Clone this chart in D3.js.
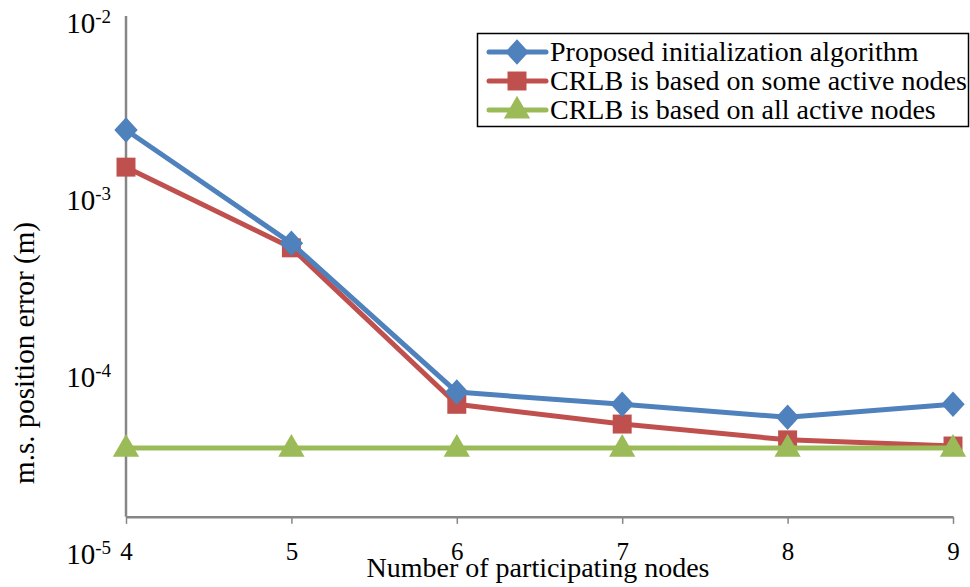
<!DOCTYPE html>
<html><head><meta charset="utf-8">
<script src="https://cdn.jsdelivr.net/npm/d3@7"></script>
<style>body{margin:0;background:#fff}svg{display:block}</style>
</head><body>
<svg id="c" width="970" height="587"></svg>
<script>
const nodes = [4, 5, 6, 7, 8, 9];
const proposed = [2.27e-3, 5.2e-4, 7.5e-5, 6.4e-5, 5.4e-5, 6.4e-5];
const crlbSome = [1.40e-3, 4.9e-4, 6.4e-5, 4.95e-5, 4.03e-5, 3.72e-5];
const crlbAll  = [3.62e-5, 3.62e-5, 3.62e-5, 3.62e-5, 3.62e-5, 3.62e-5];
const yTickExps = [-2, -3, -4, -5];
const seriesNames = ["Proposed initialization algorithm", "CRLB is based on some active nodes", "CRLB is based on all active nodes"];
const xAxisCross = 1.48e-5;

const svg = d3.select("#c");
const font = "Liberation Serif";
const x = d3.scaleLinear().domain([4, 9]).range([126, 953]);
const y = d3.scaleLog().domain([1e-5, 1e-2]).range([547, 16]);
const axisY = y(xAxisCross);
const gray = "#868686";

// axes
svg.append("line").attr("x1", x(4)).attr("x2", x(4)).attr("y1", y(1e-2)).attr("y2", axisY)
  .attr("stroke", gray).attr("stroke-width", 2.5);
const xa = svg.append("g").attr("transform", `translate(0,${axisY})`)
  .call(d3.axisBottom(x).tickValues(nodes).tickSize(7).tickSizeOuter(0).tickFormat(d3.format("d")));
xa.select(".domain").attr("stroke", gray).attr("stroke-width", 2.5);
xa.selectAll(".tick line").attr("stroke", gray).attr("stroke-width", 1.5);
xa.selectAll(".tick text").attr("font-family", font).attr("font-size", 25).attr("fill", "#000")
  .attr("y", 0).attr("dy", 0).attr("transform", "translate(0,43)");

// y tick labels
const yl = svg.append("g");
yTickExps.forEach(e => {
  const t = yl.append("text").attr("x", 111).attr("y", y(Math.pow(10, e)) + 17)
    .attr("text-anchor", "end").attr("font-family", font).attr("font-size", 29).attr("fill", "#000");
  t.append("tspan").text("10");
  t.append("tspan").attr("font-size", 19).attr("dy", -10).text("-" + Math.abs(e));
});

// titles
svg.append("text").attr("x", 538).attr("y", 577).attr("text-anchor", "middle")
  .attr("font-family", font).attr("font-size", 28).attr("fill", "#000").text("Number of participating nodes");
svg.append("text").attr("transform", "translate(34,353) rotate(-90)").attr("text-anchor", "middle")
  .attr("font-family", font).attr("font-size", 29).attr("fill", "#000").text("m.s. position error (m)");

const colors = ["#4F81BD", "#C0504D", "#9BBB59"];
const data = [proposed, crlbSome, crlbAll];
const line = d3.line().x((d, i) => x(nodes[i])).y(d => y(d));
const symbols = [d3.symbolDiamond, d3.symbolSquare, d3.symbolTriangle];
const symSizes = [260, 360, 300];

function drawMarker(g, k, cx, cy) {
  const sx = k === 0 ? 1.35 : 1;
  g.append("path").attr("d", d3.symbol().type(symbols[k]).size(symSizes[k])())
    .attr("transform", `translate(${cx},${cy + (k === 2 ? 1 : 0)}) scale(${sx},${k===0?0.85:1})`)
    .attr("fill", colors[k]);
}

const order = [1, 0, 2];
order.forEach(k => {
  const g = svg.append("g");
  g.append("path").datum(data[k]).attr("d", line).attr("fill", "none")
    .attr("stroke", colors[k]).attr("stroke-width", 5).attr("stroke-linejoin", "round");
  data[k].forEach((v, i) => drawMarker(g, k, x(nodes[i]), y(v)));
});

// legend
const lg = svg.append("g");
lg.append("rect").attr("x", 477.5).attr("y", 33.5).attr("width", 491).attr("height", 93)
  .attr("fill", "#fff").attr("stroke", "#000").attr("stroke-width", 1.5);
const rowY = [52, 81, 110];
seriesNames.forEach((n, k) => {
  lg.append("line").attr("x1", 489).attr("x2", 546).attr("y1", rowY[k]).attr("y2", rowY[k])
    .attr("stroke", colors[k]).attr("stroke-width", 5).attr("stroke-linecap", "round");
  drawMarker(lg, k, 517, rowY[k]);
  lg.append("text").attr("x", 550).attr("y", rowY[k] + 9).attr("font-family", font)
    .attr("font-size", 28).attr("fill", "#000").text(n);
});
</script>
</body></html>
